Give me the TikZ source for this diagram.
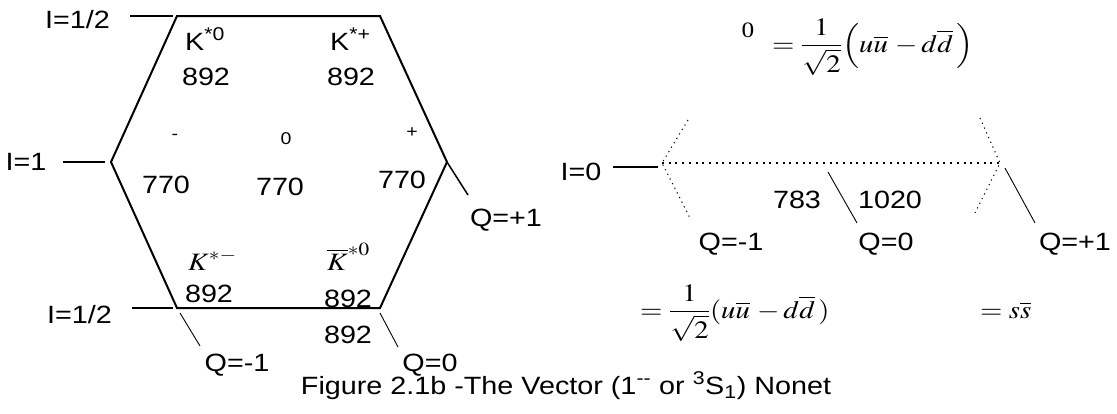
\documentclass[tikz,border=0pt]{standalone}
\usepackage{amsmath}
\usepackage{mathptmx}
\usepackage[no-math]{fontspec}
\usepackage{graphicx}
\newfontfamily\arialf{Liberation Sans}
\newfontfamily\tnrf{Liberation Serif}
\newcommand{\wide}[1]{\scalebox{1.15}[1]{#1}}
\begin{document}
\begin{tikzpicture}[x=1pt,y=-1pt,
  lab/.style={inner sep=0pt, font=\arialf\fontsize{25}{29}\selectfont},
  small/.style={inner sep=0pt, font=\arialf\fontsize{17}{20}\selectfont},
  mth/.style={inner sep=0pt, font=\fontsize{25}{29}\selectfont},
  hexline/.style={line width=2pt, line join=miter},
  tick/.style={line width=1.2pt},
  thinline/.style={line width=0.9pt},
  dots/.style={line width=2pt, dash pattern=on 2pt off 4.7pt},
  sdots/.style={line width=1pt, dash pattern=on 1.2pt off 4pt}]
\useasboundingbox (0,0) rectangle (1117,413);

% hexagon
\coordinate (TL) at (177,16);
\coordinate (TR) at (380,16);
\coordinate (R) at (447,162);
\coordinate (BR) at (380,308);
\coordinate (BL) at (177,308);
\coordinate (L) at (111,162);
\draw[hexline] (TL) -- (TR) -- (R) -- (BR) -- (BL) -- (L) -- cycle;

% isospin / charge labels of the octet
\node[lab, anchor=base] (Ihtop) at (77.5,28) {\wide{I=1/2}};
\node[lab, anchor=base] (Ione) at (26,170) {\wide{I=1}};
\node[lab, anchor=base] (Ihbot) at (79.5,323) {\wide{I=1/2}};
\node[lab, anchor=base] (Qm1a) at (237,371) {\wide{Q=-1}};
\node[lab, anchor=base] (Q0a) at (430,371) {\wide{Q=0}};
\node[lab, anchor=base] (Qp1a) at (506,226) {\wide{Q=+1}};

\coordinate (a1) at (130,16); \coordinate (a2) at (173,16);
\coordinate (b1) at (63,162); \coordinate (b2) at (105,162);
\coordinate (c1) at (132,308); \coordinate (c2) at (173,308);
\coordinate (d1) at (180,313); \coordinate (d2) at (200,346);
\coordinate (e1) at (380,313); \coordinate (e2) at (398,347);
\coordinate (f2) at (468,195);
\draw[tick] (a1) -- (a2);
\draw[tick] (b1) -- (b2);
\draw[tick] (c1) -- (c2);
\draw[thinline] (d1) -- (d2);
\draw[thinline] (e1) -- (e2);
\draw[line width=1.5pt] (R) -- (f2);

% particles inside the hexagon
\node[lab, anchor=base west] (Kst0) at (185,50) {\wide{K\textsuperscript{*0}}};
\node[lab, anchor=base] (m1) at (206,85) {\wide{892}};
\node[lab, anchor=base west] (Kstp) at (330,50) {\wide{K\textsuperscript{*+}}};
\node[lab, anchor=base] (m2) at (351,85) {\wide{892}};
\node[small] (rhom) at (175,137) {\wide{-}};
\node[small] (rho0) at (286,139) {\wide{0}};
\node[small] (rhop) at (412,133) {\wide{+}};
\node[lab, anchor=base] (m3) at (166,193) {\wide{770}};
\node[lab, anchor=base] (m4) at (280,195) {\wide{770}};
\node[lab, anchor=base] (m5) at (402,188) {\wide{770}};
\node[mth, anchor=base west] (Kstm) at (188,270) {\wide{$K^{*-}$}};
\node[lab, anchor=base] (m6) at (209,302) {\wide{892}};
\node[mth, anchor=base west] (Kstb) at (327,270) {\wide{$\overline{K}^{*0}$}};
\node[lab, anchor=base] (m7) at (348,307) {\wide{892}};
\node[lab, anchor=base] (m8) at (348,343) {\wide{892}};

% singlet / I=0 part
\node[inner sep=0pt, font=\tnrf\fontsize{22}{26}\selectfont] (zero) at (748,30) {\wide{0}};
\node[mth, anchor=base west] (f1) at (772,52) {\wide{$=\dfrac{1}{\sqrt{2}}\Bigl(u\overline{u}\,-d\overline{d}\,\Bigr)$}};
\node[mth, anchor=base west] (f2n) at (640,318) {\wide{$=\dfrac{1}{\sqrt{2}}(u\overline{u}\,-d\overline{d}\,)$}};
\node[mth, anchor=base west] (f3) at (980,318) {\wide{$=s\overline{s}$}};

\node[lab, anchor=base] (Izero) at (581,180) {\wide{I=0}};
\node[lab, anchor=base] (m9) at (797,208) {\wide{783}};
\node[lab, anchor=base] (m10) at (890,208) {\wide{1020}};
\node[lab, anchor=base] (Qm1b) at (731,250) {\wide{Q=-1}};
\node[lab, anchor=base] (Q0b) at (886,250) {\wide{Q=0}};
\node[lab, anchor=base] (Qp1b) at (1075,250) {\wide{Q=+1}};

\coordinate (g1) at (613,167); \coordinate (g2) at (658,167);
\coordinate (VL) at (662,163); \coordinate (VR) at (1000,163);
\coordinate (ul) at (688,120); \coordinate (ll) at (690,218);
\coordinate (ur) at (980,118); \coordinate (lr) at (975,213);
\coordinate (h1) at (1005,168); \coordinate (h2) at (1035,223);
\coordinate (k1) at (828,172); \coordinate (k2) at (857,223);
\draw[tick] (g1) -- (g2);
\draw[dots] (VL) -- (VR);
\draw[sdots] (ul) -- (VL) -- (ll);
\draw[sdots] (ur) -- (VR) -- (lr);
\draw[thinline] (h1) -- (h2);
\draw[thinline] (k1) -- (k2);

% caption
\node[lab, anchor=base] (cap) at (566,394) {\wide{Figure 2.1b -The Vector (1\textsuperscript{-{}-} or \textsuperscript{3}S\textsubscript{1}) Nonet}};
\end{tikzpicture}
\end{document}
